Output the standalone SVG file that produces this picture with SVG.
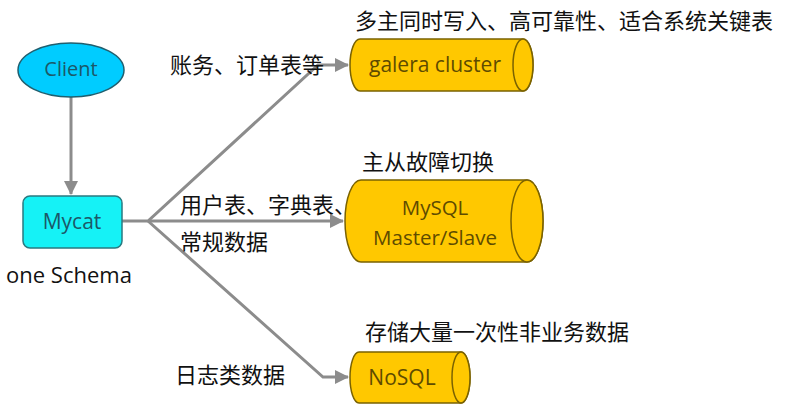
<svg xmlns="http://www.w3.org/2000/svg" width="787" height="418" viewBox="0 0 787 418">
<defs>
<style>
.lbl{font-family:"Open Sans","Noto Sans","Noto Sans CJK SC",sans-serif;}
.cn{font-family:"Noto Sans CJK SC","Noto Sans",sans-serif;font-size:22px;fill:#111;}
.node-t{font-size:20px;text-anchor:middle;dominant-baseline:central;}
.blue{fill:#1C5868;}
.gold{fill:#5E4B00;}
.cyl{fill:#FFC800;stroke:#7A6200;stroke-width:1.5;}
.conn{fill:none;stroke:#8C8C8C;stroke-width:3;}
</style>
<marker id="arrB" viewBox="0 0 14 14" markerWidth="14" markerHeight="14" refX="13" refY="7" orient="auto" markerUnits="userSpaceOnUse">
<path d="M0,0 L14,7 L0,14 Z" fill="#8C8C8C"/>
</marker>
</defs>
<rect width="787" height="418" fill="#fff"/>

<g id="connectors">
<path class="conn" d="M71,97 V194" marker-end="url(#arrB)"/>
<path class="conn" d="M122,221 H148 L318,65 H348" marker-end="url(#arrB)"/>
<path class="conn" d="M148,221 H343" marker-end="url(#arrB)"/>
<path class="conn" d="M148,221 L323,377 H348" marker-end="url(#arrB)"/>
</g>

<g id="client">
<ellipse cx="71" cy="70" rx="53" ry="27" fill="#00CCFF" stroke="#1F5F6F" stroke-width="1.5"/>
<text class="lbl node-t blue" x="71" y="68" font-size="21">Client</text>
</g>

<g id="mycat">
<rect x="23" y="196" width="99" height="52" rx="7" fill="#15F2F6" stroke="#2A7A80" stroke-width="1.5"/>
<text class="lbl node-t blue" x="72" y="221" style="font-size:21px">Mycat</text>
<text class="lbl" x="69" y="283" font-size="22" text-anchor="middle" fill="#111">one Schema</text>
</g>

<g id="galera">
<path class="cyl" d="M360,39 H523 A10,26 0 0 1 523,91 H360 A10,26 0 0 1 360,39 Z"/>
<ellipse class="cyl" cx="523" cy="65" rx="10" ry="26"/>
<text class="lbl node-t gold" x="435" y="64" style="font-size:21px">galera cluster</text>
<text class="cn" x="355" y="29">多主同时写入、高可靠性、适合系统关键表</text>
</g>

<g id="mysql">
<path class="cyl" d="M361,180 H527 A16,41 0 0 1 527,262 H361 A16,41 0 0 1 361,180 Z"/>
<ellipse class="cyl" cx="527" cy="221" rx="16" ry="41"/>
<text class="lbl node-t gold" x="435" y="207" style="font-size:20.5px">MySQL</text>
<text class="lbl node-t gold" x="435" y="237" style="font-size:20.5px">Master/Slave</text>
<text class="cn" x="362" y="170">主从故障切换</text>
</g>

<g id="nosql">
<path class="cyl" d="M359,352 H461 A9,25.5 0 0 1 461,403 H359 A9,25.5 0 0 1 359,352 Z"/>
<ellipse class="cyl" cx="461" cy="377.5" rx="9" ry="25.5"/>
<text class="lbl node-t gold" x="402" y="377" style="font-size:21px">NoSQL</text>
<text class="cn" x="365" y="340">存储大量一次性非业务数据</text>
</g>

<g id="edge-labels">
<text class="cn" x="170" y="73">账务、订单表等</text>
<text class="cn" x="180" y="213">用户表、字典表、</text>
<text class="cn" x="180" y="250">常规数据</text>
<text class="cn" x="175" y="383">日志类数据</text>
</g>
</svg>
